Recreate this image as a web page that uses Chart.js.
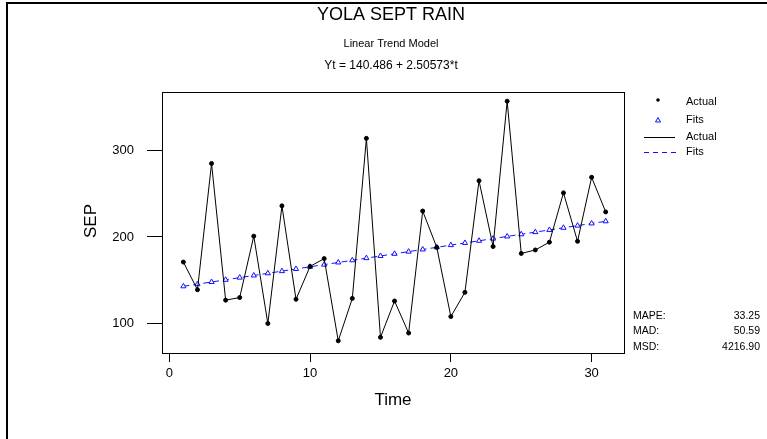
<!DOCTYPE html>
<html>
<head>
<meta charset="utf-8">
<script src="https://cdn.jsdelivr.net/npm/chart.js@4.4.0/dist/chart.umd.min.js"></script>
<style>
body{margin:0;background:#fff;}
#caja{position:relative;width:767px;height:439px;}
</style>
</head>
<body>
<div id="caja"><canvas id="lluvia-grafica" width="767" height="439"></canvas></div>
<script>
// datos
const tiempo = [1,2,3,4,5,6,7,8,9,10,11,12,13,14,15,16,17,18,19,20,21,22,23,24,25,26,27,28,29,30,31];
const actual = [171,139,285,127,130,201,100,236,128,166,175,80,129,314,84,126,89,230,188,108,136,265,189,357,181,185,194,251,195,269,229];
const ajustes = [142.99,145.50,148.00,150.51,153.02,155.52,158.03,160.53,163.04,165.54,168.05,170.55,173.06,175.57,178.07,180.58,183.08,185.59,188.09,190.60,193.11,195.61,198.12,200.62,203.13,205.64,208.14,210.65,213.15,215.66,218.16];
const ticksX = [0,10,20,30];
const ticksY = [100,200,300];
const titulo = 'YOLA SEPT RAIN';
const subtitulo = 'Linear Trend Model';
const ecuacion = 'Yt = 140.486 + 2.50573*t';
const medidas = ['MAPE:','MAD:','MSD:'];
const valoresMedidas = ['33.25','50.59','4216.90'];

const fuente = '"Liberation Sans", Arial, Helvetica, sans-serif';
const azul = '#1010ff';

const textos = {
    id: 'textos',
    afterDraw(chart) {
        const ctx = chart.ctx;
        const a = chart.chartArea;
        ctx.save();
        // marco de la grafica
        ctx.strokeStyle = '#000';
        ctx.lineWidth = 1;
        ctx.strokeRect(a.left + 0.5, a.top + 0.5, a.right - a.left, a.bottom - a.top);
        // borde exterior
        ctx.lineWidth = 2;
        ctx.beginPath();
        ctx.moveTo(7, 439); ctx.lineTo(7, 3); ctx.lineTo(767, 3);
        ctx.stroke();

        ctx.fillStyle = '#000';
        ctx.textAlign = 'center';
        ctx.textBaseline = 'middle';
        ctx.font = '18px ' + fuente;
        ctx.fillText(titulo, 391, 15);
        ctx.font = '11px ' + fuente;
        ctx.fillText(subtitulo, 391, 44);
        ctx.font = '12px ' + fuente;
        ctx.fillText(ecuacion, 391, 66);

        // titulos de ejes
        ctx.font = '17px ' + fuente;
        ctx.fillText('Time', 393, 400);
        ctx.save();
        ctx.translate(91, 221);
        ctx.rotate(-Math.PI / 2);
        ctx.fillText('SEP', 0, 0);
        ctx.restore();

        // leyenda
        ctx.textAlign = 'left';
        ctx.font = '11px ' + fuente;
        ctx.beginPath();
        ctx.arc(658, 100, 1.8, 0, Math.PI * 2);
        ctx.fill();
        ctx.fillText('Actual', 686, 102);
        ctx.strokeStyle = azul;
        ctx.lineWidth = 1;
        ctx.beginPath();
        ctx.moveTo(655.5, 122); ctx.lineTo(658, 117.5); ctx.lineTo(660.5, 122); ctx.closePath();
        ctx.stroke();
        ctx.fillText('Fits', 686, 120);
        ctx.strokeStyle = '#000';
        ctx.beginPath();
        ctx.moveTo(644, 137.5); ctx.lineTo(675, 137.5);
        ctx.stroke();
        ctx.fillText('Actual', 686, 137);
        ctx.strokeStyle = azul;
        ctx.setLineDash([5, 4]);
        ctx.beginPath();
        ctx.moveTo(644, 152.5); ctx.lineTo(676, 152.5);
        ctx.stroke();
        ctx.setLineDash([]);
        ctx.fillText('Fits', 686, 152);

        // medidas de exactitud
        ctx.font = '10.5px ' + fuente;
        medidas.forEach((m, i) => {
            const y = 316 + i * 15.5;
            ctx.textAlign = 'left';
            ctx.fillText(m, 633, y);
            ctx.textAlign = 'right';
            ctx.fillText(valoresMedidas[i], 760, y);
        });
        ctx.restore();
    }
};

const ctx = document.getElementById('lluvia-grafica').getContext('2d');
const grafica = new Chart(ctx, {
    type: 'line',
    data: {
        datasets: [{
            label: 'Actual',
            data: tiempo.map((t, i) => ({x: t, y: actual[i]})),
            borderColor: '#000',
            borderWidth: 1,
            pointStyle: 'circle',
            pointRadius: 2,
            pointBackgroundColor: '#000',
            pointBorderColor: '#000',
            tension: 0
        }, {
            label: 'Fits',
            data: tiempo.map((t, i) => ({x: t, y: ajustes[i]})),
            borderColor: azul,
            borderWidth: 1,
            borderDash: [6, 4],
            pointStyle: 'triangle',
            pointRadius: 3,
            pointBorderWidth: 1,
            pointBackgroundColor: '#fff',
            pointBorderColor: azul,
            tension: 0
        }]
    },
    options: {
        responsive: false,
        animation: false,
        layout: {
            padding: {top: 92, right: 143, left: 0, bottom: 0}
        },
        scales: {
            x: {
                type: 'linear',
                min: -0.52,
                max: 32.3,
                afterBuildTicks: s => { s.ticks = ticksX.map(v => ({value: v})); },
                afterFit: s => { s.height = 86; },
                grid: {drawOnChartArea: false, tickLength: 9, color: '#000'},
                border: {color: '#000'},
                ticks: {color: '#000', font: {size: 13, family: fuente}, padding: 4, maxRotation: 0}
            },
            y: {
                min: 65.9,
                max: 367.6,
                afterBuildTicks: s => { s.ticks = ticksY.map(v => ({value: v})); },
                afterFit: s => { s.width = 162; },
                grid: {drawOnChartArea: false, tickLength: 15, color: '#000'},
                border: {color: '#000'},
                ticks: {color: '#000', font: {size: 13, family: fuente}, padding: 13}
            }
        },
        plugins: {
            legend: {display: false},//sin recuadro de leyenda
            tooltip: {enabled: false}
        }
    },
    plugins: [textos]
});
</script>
</body>
</html>
